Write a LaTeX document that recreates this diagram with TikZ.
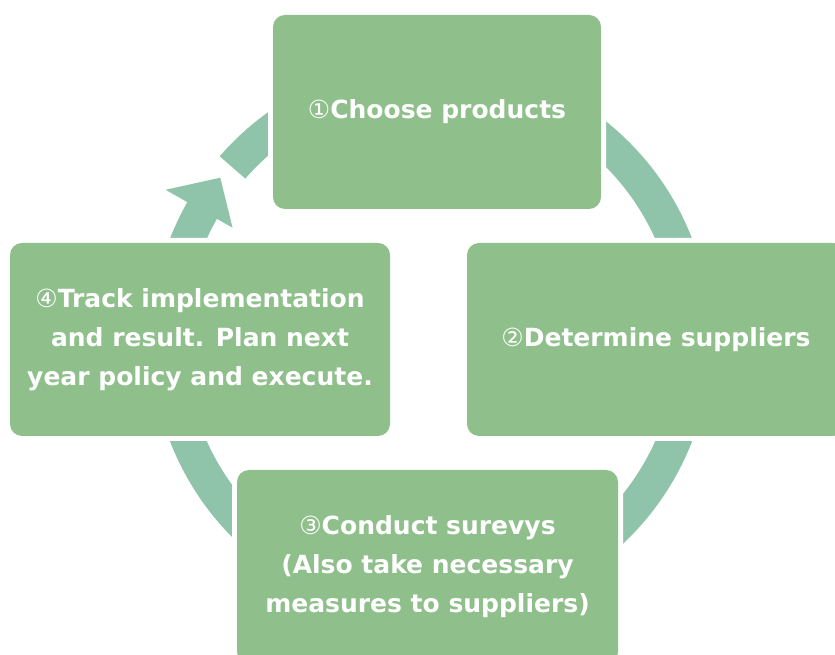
\documentclass[tikz,border=0pt]{standalone}
\usepackage{fontspec}
\setmainfont{DejaVu Sans}
\usetikzlibrary{positioning,calc}
\definecolor{boxgreen}{RGB}{143,192,140}
\definecolor{ringgreen}{RGB}{143,196,170}
\newcommand{\cnum}[1]{{\mdseries #1}}

\begin{document}
\begin{tikzpicture}[x=1pt,y=1pt,
    stepbox/.style={rounded corners=12pt, fill=boxgreen, preaction={draw=white, line width=10pt},
      inner sep=0pt, align=center, text=white, font=\fontsize{25}{39}\selectfont\bfseries}]
    \useasboundingbox (0,0) rectangle (835,655);
    \clip (0,0) rectangle (835,655);
    \coordinate (C) at (431,315);
    % circular arrow behind the boxes
    \fill[ringgreen] ([shift={(C)}]139:280) arc[start angle=139, end angle=-209.5, radius=280]
        -- ([shift={(C)}]-209.5:305) -- ([shift={(C)}]-217.6:266) -- ([shift={(C)}]-209.5:228)
        -- ([shift={(C)}]-209.5:246) arc[start angle=-209.5, end angle=139, radius=246] -- cycle;
    % the four steps
    \node[stepbox, minimum width=328pt, minimum height=194pt] (choose) at (437,543) {\cnum{①}Choose products};
    \node[stepbox, minimum width=378pt, minimum height=193pt] (suppliers) at (656,315.5) {\cnum{②}Determine suppliers};
    \node[stepbox, minimum width=381pt, minimum height=194pt] (survey) at (427.5,88) {\cnum{③}Conduct surevys\\(Also take necessary\\measures to suppliers)};
    \node[stepbox, minimum width=380pt, minimum height=193pt] (track) at (200,315.5) {\cnum{④}Track implementation\\and result. Plan next\\year policy and execute.};
\end{tikzpicture}
\end{document}
